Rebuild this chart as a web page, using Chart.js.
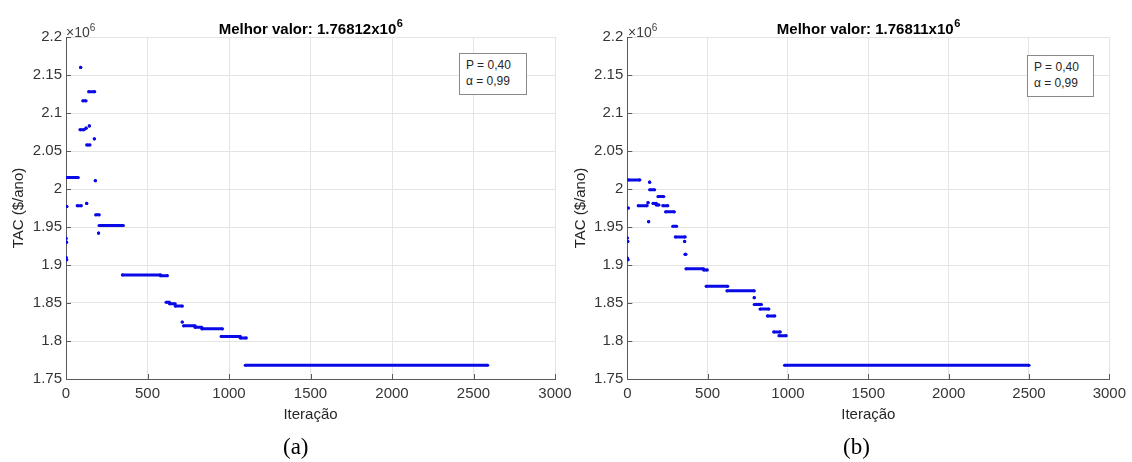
<!DOCTYPE html>
<html>
<head>
<meta charset="utf-8">
<script src="https://cdn.jsdelivr.net/npm/chart.js@4.4.0/dist/chart.umd.min.js"></script>
<style>
html,body{margin:0;padding:0;background:#fff;}
#wrap{position:relative;width:1132px;height:462px;overflow:hidden;background:#fff;}
#wrap canvas{position:absolute;left:0;top:0;}
.exp{position:absolute;font:14px 'Liberation Sans',Arial,sans-serif;color:#404040;line-height:14px;white-space:nowrap;}
.exp span{font-size:10px;position:relative;top:-6px;}
.leg{position:absolute;border:1px solid #8a8a8a;background:#fff;font:12px 'Liberation Sans',Arial,sans-serif;color:#262626;box-sizing:border-box;line-height:16px;padding:3px 0 0 6px;white-space:nowrap;z-index:5;}
.cap{position:absolute;font:23px 'Liberation Serif','Times New Roman',serif;color:#000;line-height:26px;white-space:nowrap;}
</style>
</head>
<body>
<div id="wrap">
  <canvas id="chartA" width="1132" height="462"></canvas>
  <canvas id="chartB" width="1132" height="462"></canvas>
  <div class="exp" style="left:66px;top:25px;">×10<span>6</span></div>
  <div class="exp" style="left:628px;top:25px;">×10<span>6</span></div>
  <div class="leg" style="left:459px;top:53px;width:68px;height:42px;">P = 0,40<br>α = 0,99</div>
  <div class="leg" style="left:1027px;top:55px;width:67px;height:42px;">P = 0,40<br>α = 0,99</div>
  <div class="cap" style="left:283px;top:434px;">(a)</div>
  <div class="cap" style="left:843px;top:434px;">(b)</div>
</div>
<script>
// ---- axis ticks (values in units of 10^6 $/ano) ----
const xTicks = [0, 500, 1000, 1500, 2000, 2500, 3000];
const yTicks = [1.75, 1.8, 1.85, 1.9, 1.95, 2, 2.05, 2.1, 2.15, 2.2];

// ---- panel (a): runs of constant TAC (start iteration, end iteration, value x10^6) ----
const aStart = [0, 3, 0, 4, 5, 0, 69, 86, 90, 103, 123, 127, 127, 139, 143, 174, 180, 182, 200, 203, 346, 580, 614, 635, 670, 713, 721, 792, 833, 952, 1069, 1100];
const aEnd   = [0, 3, 0, 4, 5, 75, 94, 111, 90, 123, 123, 127, 147, 176, 143, 174, 180, 204, 200, 352, 580, 622, 635, 670, 714, 713, 792, 833, 960, 1069, 1106, 2587];
const aValue = [1.935, 1.930, 1.910, 1.907, 1.977, 2.015, 1.978, 2.078, 2.160, 2.116, 2.080, 1.981, 2.058, 2.128, 2.083, 2.066, 2.011, 1.966, 1.942, 1.952, 1.887, 1.886, 1.851, 1.849, 1.846, 1.825, 1.820, 1.818, 1.816, 1.806, 1.804, 1.76812];

// ---- panel (b) ----
const bStart = [0, 3, 0, 4, 6, 6, 68, 129, 133, 139, 139, 160, 180, 191, 221, 238, 283, 299, 357, 359, 365, 475, 491, 620, 790, 790, 826, 872, 911, 944, 979];
const bEnd   = [0, 3, 0, 4, 6, 78, 123, 129, 133, 139, 170, 180, 197, 227, 252, 293, 307, 360, 357, 365, 475, 498, 625, 790, 790, 835, 881, 918, 952, 989, 2500];
const bValue = [1.9355, 1.931, 1.909, 1.907, 1.975, 2.012, 1.978, 1.982, 1.957, 2.009, 1.999, 1.981, 1.979, 1.990, 1.978, 1.970, 1.951, 1.937, 1.931, 1.914, 1.895, 1.8935, 1.872, 1.866, 1.857, 1.848, 1.842, 1.833, 1.812, 1.807, 1.76811];

// titles: main text + superscript exponent
const titleA = ['Melhor valor: 1.76812x10', '6'];
const titleB = ['Melhor valor: 1.76811x10', '6'];
const xTitle = 'Iteração';
const yTitle = 'TAC ($/ano)';

const FONT = "'Liberation Sans', Arial, sans-serif";
const BLUE = '#0a0ae6';
const GRID = '#e4e4e4';
const AXIS = '#5a5a5a';
const TICK = '#363636';

function runsToPoints(s, e, v) {
  const pts = [];
  for (let i = 0; i < s.length; i++) {
    pts.push({x: s[i], y: v[i]}, {x: e[i], y: v[i]}, {x: e[i], y: null});
  }
  return pts;
}

const inwardTicks = {
  id: 'inwardTicks',
  afterDraw(chart) {
    const {ctx, chartArea: a, scales: {x, y}} = chart;
    ctx.save();
    ctx.strokeStyle = AXIS;
    ctx.lineWidth = 1;
    ctx.beginPath();
    xTicks.forEach(v => {
      const p = Math.round(x.getPixelForValue(v)) + 0.5;
      ctx.moveTo(p, a.bottom); ctx.lineTo(p, a.bottom - 5);
    });
    yTicks.forEach(v => {
      const p = Math.round(y.getPixelForValue(v)) + 0.5;
      ctx.moveTo(a.left, p); ctx.lineTo(a.left + 5, p);
    });
    ctx.stroke();
    ctx.restore();
  }
};

const supTitle = {
  id: 'supTitle',
  afterDraw(chart, args, opts) {
    const {ctx, chartArea: a} = chart;
    const [main, exp] = opts.text;
    ctx.save();
    ctx.fillStyle = '#000';
    ctx.textBaseline = 'alphabetic';
    ctx.textAlign = 'left';
    ctx.font = 'bold 15px ' + FONT;
    const w1 = ctx.measureText(main).width;
    ctx.font = 'bold 11px ' + FONT;
    const w2 = ctx.measureText(exp).width;
    const cx = (a.left + a.right) / 2;
    const x0 = cx - (w1 + w2) / 2;
    ctx.font = 'bold 15px ' + FONT;
    ctx.fillText(main, x0, 33.5);
    ctx.font = 'bold 11px ' + FONT;
    ctx.fillText(exp, x0 + w1 + 0.5, 26.5);
    ctx.restore();
  }
};

function makeChart(id, s, e, v, title, padL, yW, padR) {
  return new Chart(document.getElementById(id), {
    type: 'scatter',
    data: {
      datasets: [{
        data: runsToPoints(s, e, v),
        showLine: true,
        spanGaps: false,
        borderColor: BLUE,
        backgroundColor: BLUE,
        borderWidth: 3,
        pointRadius: 1.6,
        pointHoverRadius: 1.6,
        pointBorderWidth: 0,
        pointBackgroundColor: BLUE
      }]
    },
    options: {
      responsive: false,
      animation: false,
      devicePixelRatio: 1,
      events: [],
      layout: {padding: {left: padL, right: padR, top: 37, bottom: 37}},
      plugins: {
        legend: {display: false},
        tooltip: {enabled: false},
        title: {display: false},
        supTitle: {text: title}
      },
      scales: {
        x: {
          type: 'linear', min: 0, max: 3000,
          afterBuildTicks: sc => { sc.ticks = xTicks.map(t => ({value: t})); },
          afterFit: sc => { sc.height = 46; },
          grid: {color: GRID, drawTicks: false},
          border: {color: AXIS, width: 1},
          ticks: {color: TICK, font: {family: FONT, size: 15}, padding: 6, maxRotation: 0, autoSkip: false, callback: t => String(t)},
          title: {display: true, text: xTitle, color: '#262626', font: {family: FONT, size: 15}, padding: {top: 0, bottom: 1}}
        },
        y: {
          type: 'linear', min: 1.75, max: 2.2,
          afterBuildTicks: sc => { sc.ticks = yTicks.map(t => ({value: t})); },
          afterFit: sc => { sc.width = yW; },
          grid: {color: GRID, drawTicks: false},
          border: {color: AXIS, width: 1},
          ticks: {color: TICK, font: {family: FONT, size: 15}, padding: 4, autoSkip: false, callback: t => String(t)},
          title: {display: true, text: yTitle, color: '#262626', font: {family: FONT, size: 15}, padding: {top: 10, bottom: 0}}
        }
      }
    },
    plugins: [inwardTicks, supTitle]
  });
}

makeChart('chartA', aStart, aEnd, aValue, titleA, 0, 66, 577);
makeChart('chartB', bStart, bEnd, bValue, titleB, 562, 65.3, 17);
</script>
</body>
</html>
